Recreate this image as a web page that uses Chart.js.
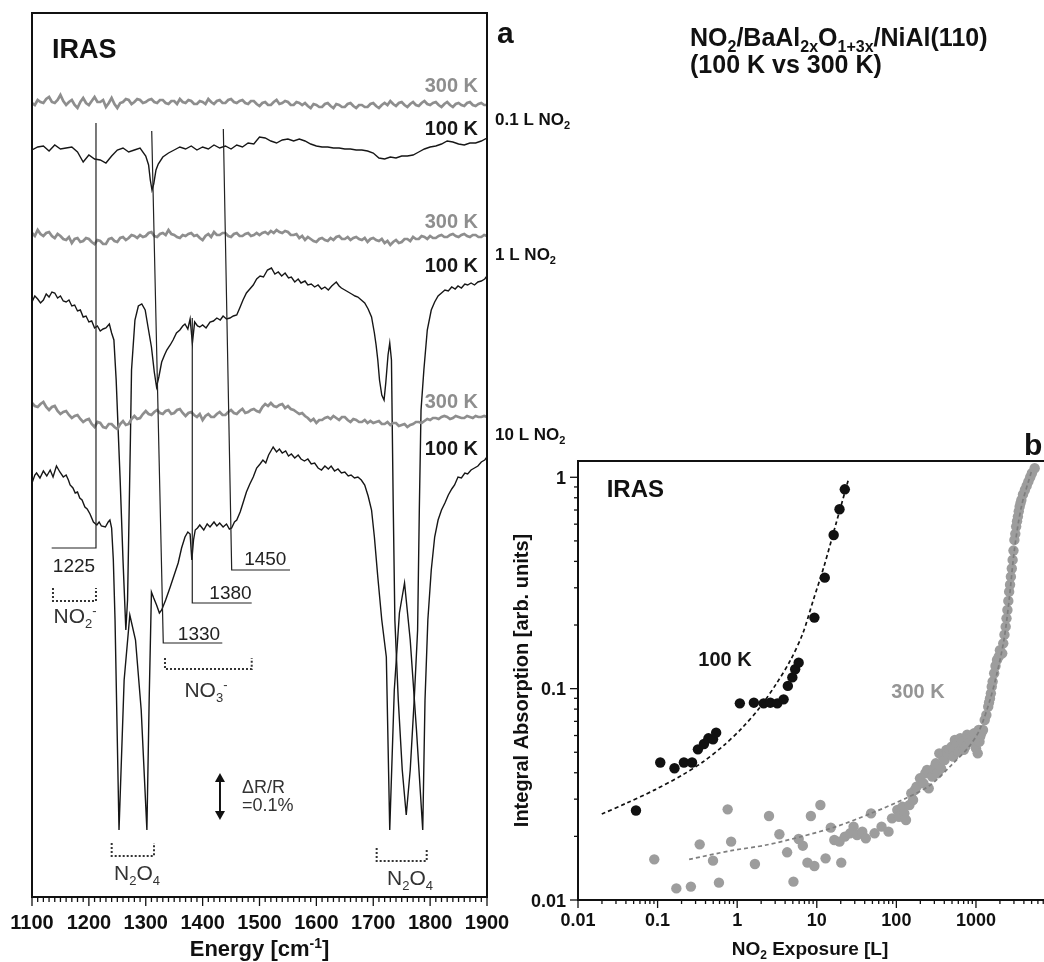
<!DOCTYPE html>
<html><head><meta charset="utf-8">
<script src="https://cdn.jsdelivr.net/npm/chart.js@4.4.1/dist/chart.umd.min.js"></script>
<style>
html,body{margin:0;padding:0;background:#fff;overflow:hidden;width:1044px;height:962px;}
#wrap{position:relative;width:1044px;height:962px;overflow:hidden;background:#fff;}
canvas{position:absolute;left:0;top:0;}
</style></head><body>
<div id="wrap">
<canvas id="ca" width="1044" height="962"></canvas>
<canvas id="cb" width="1110" height="962"></canvas>
</div>
<script>
// ---------------- Panel a: IRAS spectra (energy in cm-1, signal in arb. units) ----------------
const spectrumEnergy = [
1100,1105,1110,1115,1120,1125,1130,1135,1140,1145,1150,1155,1160,1165,1170,1175,1180,1185,1190,1195,
1200,1205,1210,1215,1220,1225,1230,1235,1240,1245,1250,1255,1260,1265,1270,1275,1280,1285,1290,1295,
1300,1305,1310,1315,1320,1325,1330,1335,1340,1345,1350,1355,1360,1365,1370,1375,1380,1385,1390,1395,
1400,1405,1410,1415,1420,1425,1430,1435,1440,1445,1450,1455,1460,1465,1470,1475,1480,1485,1490,1495,
1500,1505,1510,1515,1520,1525,1530,1535,1540,1545,1550,1555,1560,1565,1570,1575,1580,1585,1590,1595,
1600,1605,1610,1615,1620,1625,1630,1635,1640,1645,1650,1655,1660,1665,1670,1675,1680,1685,1690,1695,
1700,1705,1710,1715,1720,1725,1730,1735,1740,1745,1750,1755,1760,1765,1770,1775,1780,1785,1790,1795,
1800,1805,1810,1815,1820,1825,1830,1835,1840,1845,1850,1855,1860,1865,1870,1875,1880,1885,1890,1895,
1900];
const sig_01L_300K = [
1,-1,4,2,1,5,7,2,1,4,9,3,-1,2,4,-1,-4,2,6,1,
-1,3,7,2,2,4,-3,1,6,0,-4,1,2,5,4,0,2,5,4,1,
2,4,5,2,1,4,4,1,0,3,3,0,5,2,1,4,3,0,0,3,
2,0,5,2,0,3,4,1,1,4,5,2,1,3,4,1,0,3,3,0,
-2,1,2,-1,-1,2,4,0,1,3,2,-1,-1,2,1,-1,1,-2,-4,0,
-1,-3,-3,0,1,-2,-4,0,-1,-3,-3,0,1,-2,-4,-1,-1,-3,-3,0,
1,-2,-4,-1,1,-1,3,0,-2,1,2,-1,-3,0,2,-1,-2,1,3,0,
-1,1,2,-1,-3,0,2,-1,-3,0,1,-1,-2,1,2,-1,-2,0,1,-1,
-1];
const sig_1L_300K = [
3,0,6,2,0,3,4,0,-2,2,0,-3,-4,-1,-7,-3,-2,-6,-5,-2,
-3,-6,-8,-4,-5,-8,-8,-3,-2,-5,-6,-2,-1,-4,-2,1,0,-2,1,-1,
0,3,4,0,-1,2,3,1,6,2,1,-1,-2,1,0,2,3,0,1,-2,
-4,0,2,-1,4,1,1,3,3,0,-1,2,3,0,0,2,3,0,1,3,
1,3,4,2,5,3,6,4,3,5,4,1,1,2,-2,0,-4,-1,-3,-5,
-6,-3,-2,-4,-5,-2,-4,-1,0,-3,-3,-1,-4,-2,-1,-3,-4,-2,-6,-3,
-2,-4,-5,-3,-7,-5,-9,-6,-4,-7,-6,-3,-3,-5,-1,-3,-3,0,-1,-3,
0,-2,-2,0,1,-1,-1,1,2,0,-1,1,2,0,-1,1,1,-1,-1,1,
0];
const sig_10L_300K = [
12,9,8,11,13,8,5,8,9,4,1,3,4,0,-3,-1,0,-4,-7,-5,
-4,-9,-12,-7,-8,-12,-13,-9,-9,-12,-14,-9,-6,-10,-9,-4,-1,-4,-3,1,
4,1,0,3,5,2,1,4,5,1,2,5,6,2,-1,2,3,0,-2,1,
-5,-1,1,-2,-2,1,3,0,0,3,5,2,1,4,6,2,3,5,6,4,
3,8,11,9,12,9,8,10,11,7,9,6,5,3,1,2,-1,-3,-6,-4,
-8,-5,-5,-3,-2,-4,-1,-3,-5,-2,-2,-5,-7,-4,-5,-7,-7,-5,-8,-6,
-8,-7,-6,-9,-9,-7,-10,-8,-8,-11,-10,-9,-12,-10,-9,-7,-7,-8,-6,-4,
-5,-3,-3,-4,-2,-1,-2,-4,-3,-1,-2,-3,-3,-1,-2,-3,-1,-2,-2,-1,
-2];

const energy_01L_100K = [1100,1110,1120,1130,1140,1150,1160,1170,1180,1190,1200,1210,1220,1230,1240,1250,1260,1270,1280,1290,1300,1305,1308,1311,1314,1318,1322,1330,1340,1350,1360,1370,1380,1390,1400,1410,1420,1430,1440,1450,1460,1470,1480,1490,1500,1510,1520,1530,1540,1550,1560,1570,1580,1590,1600,1610,1620,1630,1640,1650,1660,1670,1680,1690,1700,1710,1720,1730,1740,1750,1760,1770,1780,1790,1800,1810,1820,1830,1840,1850,1860,1870,1880,1890,1900];
const sig_01L_100K = [0,3,4,-1,5,1,2,3,-2,-12,-5,-9,-10,-13,-6,0,2,-2,0,2,-6,-15,-30,-40,-34,-20,-14,-7,-3,0,3,1,4,0,3,1,5,2,4,1,5,3,7,6,13,12,9,7,10,11,9,11,9,6,4,3,3,2,2,1,1,0,0,-1,-3,-8,-9,-7,-8,-6,-6,-5,-2,1,3,4,6,9,8,6,5,7,7,9,12];

const energy_1L_100K = [1100,1105,1110,1115,1120,1125,1130,1135,1140,1145,1150,1155,1160,1165,1170,1175,1180,1185,1190,1195,1200,1205,1210,1215,1220,1225,1230,1236,1240,1244,1248,1255,1260,1265,1268,1273,1275,1281,1287,1293,1299,1304,1310,1315,1319,1323,1328,1333,1337,1343,1348,1354,1360,1365,1369,1374,1378,1382,1386,1391,1395,1400,1406,1413,1419,1425,1431,1436,1442,1448,1454,1460,1466,1471,1477,1483,1489,1495,1501,1507,1514,1521,1527,1533,1539,1545,1551,1556,1562,1568,1573,1580,1585,1591,1597,1603,1609,1615,1621,1627,1635,1640,1644,1650,1656,1662,1668,1673,1679,1685,1691,1697,1702,1705,1708,1711,1715,1719,1722,1726,1729,1732,1735,1738,1744,1751,1758,1765,1772,1778,1781,1784,1789,1795,1802,1808,1814,1820,1826,1832,1838,1844,1849,1855,1861,1866,1872,1878,1884,1890,1896,1900];
const sig_1L_100K = [-2,4,1,-3,0,6,3,8,7,2,4,-1,-2,0,-6,-5,-11,-10,-17,-16,-22,-21,-28,-26,-31,-29,-28,-24,-33,-40,-80,-180,-260,-330,-300,-140,-70,-20,-6,-4,-10,-27,-47,-72,-87,-77,-62,-55,-50,-45,-40,-33,-30,-26,-24,-29,-19,-43,-22,-26,-27,-25,-28,-22,-21,-18,-20,-16,-19,-18,-16,-15,-7,0,7,11,15,21,24,23,30,32,26,28,24,27,22,23,18,21,17,19,15,16,13,15,11,13,10,14,18,14,12,10,8,6,4,3,0,-3,-9,-17,-33,-45,-60,-80,-95,-100,-83,-55,-43,-60,-200,-320,-400,-470,-515,-470,-400,-330,-210,-110,-70,-30,-10,-2,4,7,10,9,13,11,14,12,16,15,17,15,18,19,21,24];

const energy_10L_100K = [1100,1105,1108,1114,1120,1126,1132,1137,1143,1149,1155,1160,1164,1167,1172,1176,1180,1184,1188,1193,1197,1202,1208,1214,1218,1222,1229,1234,1237,1240,1243,1246,1253,1262,1272,1282,1292,1302,1306,1310,1314,1319,1324,1328,1335,1343,1350,1357,1363,1369,1374,1378,1381,1384,1387,1391,1395,1402,1408,1413,1420,1425,1430,1436,1442,1447,1451,1456,1460,1466,1471,1477,1483,1489,1495,1501,1506,1511,1516,1521,1524,1530,1535,1540,1546,1551,1556,1562,1568,1573,1579,1585,1591,1597,1603,1609,1615,1621,1626,1632,1638,1644,1650,1656,1661,1667,1673,1679,1685,1691,1697,1702,1708,1715,1723,1729,1737,1746,1755,1765,1776,1787,1791,1796,1802,1808,1814,1820,1826,1832,1838,1843,1849,1855,1861,1866,1872,1878,1884,1890,1896,1900];
const sig_10L_100K = [-3,5,7,2,9,4,10,3,14,8,3,5,0,-5,-8,-13,-12,-18,-20,-27,-29,-34,-42,-45,-42,-46,-47,-42,-40,-48,-80,-140,-350,-200,-135,-160,-230,-350,-220,-112,-118,-125,-133,-130,-120,-107,-95,-83,-68,-57,-52,-54,-80,-60,-50,-48,-45,-50,-44,-47,-42,-46,-43,-47,-44,-49,-48,-42,-40,-32,-23,-12,-4,3,12,16,20,17,25,30,33,28,31,27,29,24,26,22,25,21,19,21,16,17,12,10,14,11,14,9,11,7,8,4,5,2,3,0,-5,-16,-30,-57,-97,-140,-177,-350,-210,-133,-103,-160,-250,-350,-220,-140,-90,-57,-40,-30,-23,-15,-9,-5,3,2,7,6,10,12,14,18,20,23];

// vertical stacking offsets of the six traces (arb. units)
const traceOffsets = [793, 747, 661, 597, 482, 417];
const energyTicks = [1100,1200,1300,1400,1500,1600,1700,1800,1900];

// ---------------- Panel b: integral absorption vs NO2 exposure ----------------
const exposure100K = [0.0535,0.108,0.163,0.214,0.271,0.321,0.382,0.435,0.497,0.544,1.08,1.62,2.15,2.61,3.19,3.83,4.33,4.93,5.35,5.92,9.33,12.6,16.3,19.3,22.5];
const absorption100K = [0.0265,0.0447,0.042,0.0447,0.0447,0.0516,0.0547,0.0582,0.0576,0.0619,0.0852,0.0858,0.0852,0.0858,0.0852,0.089,0.103,0.113,0.1235,0.1327,0.2168,0.335,0.533,0.706,0.877];
const fitExposure100K = [0.0199,0.0404,0.0907,0.204,0.374,0.687,1.14,1.89,3.13,4.69,6.68,9.06,12.3,17.5,24.9];
const fitAbsorption100K = [0.0255,0.0287,0.0331,0.039,0.0451,0.0541,0.0649,0.0807,0.106,0.1367,0.1827,0.263,0.378,0.606,0.971];

const exposure300K = [0.0908,0.172,0.262,0.338,0.497,0.590,0.759,0.839,1.67,2.51,3.39,4.24,5.09,5.92,6.68,7.63,8.43,9.33,11.1,12.9,15.0,16.6,19.3,20.3,22.5,26.2,29.0,32.1,37.3,41.3,48.1,53.2,65.1,79.7,88.2,102.7,108,119.5,126,132,146,154,162,170,179,198,219,231,243,255,282,297,313,329,346,364,384,403,424,437,468,494,518,543,573,603,635,667,704,738,776,817,861,904,950,1000,1052,1082,1107,1130,1165,1225,1288,1350,1425,1460,1500,1540,1578,1620,1694,1760,1837,1931,2000,2137,2203,2280,2362,2420,2483,2550,2612,2680,2747,2820,2890,2960,3040,3120,3197,3280,3363,3450,3537,3630,3721,3900,4117,4330,4555,4800,5040,5466];
const absorption300K = [0.01557,0.01135,0.01157,0.01834,0.01535,0.01208,0.02685,0.01888,0.0148,0.02497,0.02046,0.01681,0.01221,0.01944,0.01807,0.01502,0.02497,0.01448,0.02816,0.01574,0.022,0.01923,0.01888,0.01502,0.01994,0.02068,0.02223,0.0203,0.02106,0.01958,0.0257,0.02068,0.02223,0.02106,0.02434,0.02667,0.02477,0.02764,0.0257,0.0239,0.02816,0.032,0.02973,0.0331,0.03436,0.03765,0.03565,0.0398,0.0412,0.03376,0.03835,0.042,0.04433,0.03977,0.0494,0.04198,0.0477,0.04597,0.0513,0.04943,0.05126,0.0531,0.04766,0.0572,0.0551,0.05034,0.0583,0.05612,0.0513,0.05314,0.0605,0.05715,0.0561,0.0593,0.0615,0.0522,0.04943,0.0637,0.05612,0.0593,0.06146,0.06373,0.07107,0.075,0.0822,0.086,0.0899,0.095,0.1022,0.108,0.1182,0.128,0.1367,0.1417,0.152,0.1469,0.1638,0.18,0.1965,0.215,0.2355,0.26,0.2877,0.31,0.3388,0.37,0.4065,0.45,0.5053,0.54,0.5843,0.62,0.6516,0.69,0.7261,0.755,0.7816,0.83,0.871,0.91,0.954,1.0,1.045,1.103];
const fitExposure300K = [0.249,0.840,2.31,6.35,17.5,48.1,132,268,492,817,1107,1500,1837,2247,2612,3040,3721,5040];
const fitAbsorption300K = [0.01557,0.01712,0.0182,0.01994,0.02223,0.0257,0.0303,0.035,0.0435,0.0531,0.0637,0.0883,0.1182,0.17,0.263,0.453,0.726,1.083];
const exposureTicks = [0.01,0.1,1,10,100,1000];
const absorptionTicks = [0.01,0.1,1];

// ---------------- helpers ----------------
const FAM = "'Liberation Sans', Arial, Helvetica, sans-serif";
function parseRich(s){
  const out=[]; let i=0, buf='';
  while(i<s.length){
    if((s[i]==='_'||s[i]==='^') && s[i+1]==='{'){
      if(buf){out.push([buf,0]);buf='';}
      const j=s.indexOf('}',i); out.push([s.slice(i+2,j), s[i]==='_'?1:2]); i=j+1;
    } else {buf+=s[i]; i++;}
  }
  if(buf) out.push([buf,0]);
  return out;
}
function drawText(ctx, s, x, y, o){
  const parts=parseRich(s); const size=o.size, w8=o.weight||'normal';
  const f=m=>`${w8} ${m?Math.round(size*0.62):size}px ${FAM}`;
  let W=0; parts.forEach(([t,m])=>{ctx.font=f(m); W+=ctx.measureText(t).width;});
  ctx.save(); ctx.translate(x,y); if(o.rot) ctx.rotate(o.rot);
  let cx = o.align==='center'? -W/2 : o.align==='right'? -W : 0;
  ctx.fillStyle=o.color||'#111'; ctx.textAlign='left'; ctx.textBaseline='alphabetic';
  parts.forEach(([t,m])=>{ctx.font=f(m); const dy=m===1?size*0.22:m===2?-size*0.38:0; ctx.fillText(t,cx,dy); cx+=ctx.measureText(t).width;});
  ctx.restore();
}
function seg(ctx,x1,y1,x2,y2){ctx.beginPath();ctx.moveTo(x1,y1);ctx.lineTo(x2,y2);ctx.stroke();}
const toPts=(xs,ys,off)=>xs.map((x,i)=>({x, y:(off||0)+ys[i]}));

// annotations of panel a, in data units (energy, arb.)
const peakMarks = [
  {label:'1225', path:[[1212.5,774],[1212.5,349],[1134.6,349]], at:[1173.8,325]},
  {label:'1330', path:[[1310.5,766],[1330.8,254],[1434.6,254]], at:[1393.6,257]},
  {label:'1380', path:[[1381.8,579],[1381.8,294],[1486.3,294]], at:[1449,298]},
  {label:'1450', path:[[1436.4,768],[1451.1,327],[1553.6,327]], at:[1510.2,332]}
];
const brackets = [
  {x1:1136.9, x2:1212.5, top:309, bottom:296, label:'NO_{2}^{-}', at:[1175.6,274]},
  {x1:1333.8, x2:1486.3, top:239, bottom:228, label:'NO_{3}^{-}', at:[1405.9,200]},
  {x1:1240.1, x2:1314.5, top:54, bottom:41, label:'N_{2}O_{4}', at:[1284.6,17]},
  {x1:1706, x2:1794, top:49, bottom:36, label:'N_{2}O_{4}', at:[1764.6,12]}
];
const GRAY='#8e8e8e', BLACK='#161616';
const tempLabels = [['300 K',805,GRAY],['100 K',762,BLACK],['300 K',669,GRAY],['100 K',625,BLACK],['300 K',489,GRAY],['100 K',442,BLACK]];
const doseLabels = [['0.1 L NO_{2}',772],['1 L NO_{2}',637],['10 L NO_{2}',457]];

const panelA = {
  id:'panelA',
  afterDraw(chart){
    const {ctx, chartArea:a, scales:{x,y}} = chart;
    const X=v=>x.getPixelForValue(v), Y=v=>y.getPixelForValue(v);
    ctx.save();
    ctx.strokeStyle='#222'; ctx.lineWidth=1.2;
    peakMarks.forEach(m=>{
      ctx.beginPath(); m.path.forEach(([e,v],i)=>{ i?ctx.lineTo(X(e),Y(v)):ctx.moveTo(X(e),Y(v)); }); ctx.stroke();
      drawText(ctx,m.label,X(m.at[0]),Y(m.at[1]),{size:19,color:'#222',align:'center'});
    });
    ctx.setLineDash([2,2]); ctx.lineWidth=2; ctx.strokeStyle='#333';
    brackets.forEach(b=>{
      ctx.beginPath(); ctx.moveTo(X(b.x1),Y(b.top)); ctx.lineTo(X(b.x1),Y(b.bottom)); ctx.lineTo(X(b.x2),Y(b.bottom)); ctx.lineTo(X(b.x2),Y(b.top)); ctx.stroke();
    });
    ctx.setLineDash([]);
    brackets.forEach(b=>drawText(ctx,b.label,X(b.at[0]),Y(b.at[1]),{size:21,color:'#333',align:'center'}));
    const ax=X(1430.5), a1=Y(124), a2=Y(77);
    ctx.strokeStyle='#111'; ctx.fillStyle='#111'; ctx.lineWidth=2;
    seg(ctx,ax,a1+6,ax,a2-6);
    ctx.beginPath(); ctx.moveTo(ax,a1); ctx.lineTo(ax-5,a1+9); ctx.lineTo(ax+5,a1+9); ctx.closePath(); ctx.fill();
    ctx.beginPath(); ctx.moveTo(ax,a2); ctx.lineTo(ax-5,a2-9); ctx.lineTo(ax+5,a2-9); ctx.closePath(); ctx.fill();
    drawText(ctx,'\u0394R/R',X(1469.2),Y(104),{size:18,color:'#333'});
    drawText(ctx,'=0.1%',X(1469.2),Y(86),{size:18,color:'#333'});
    ctx.strokeStyle='#111'; ctx.lineWidth=2;
    ctx.strokeRect(a.left,a.top,a.right-a.left,a.bottom-a.top);
    ctx.lineWidth=1.3;
    for(let e=1100;e<=1900;e+=10){ const px=X(e); seg(ctx,px,a.bottom,px,a.bottom+(e%100===0?9:5)); }
    energyTicks.forEach(v=>drawText(ctx,String(v),X(v),a.bottom+32,{size:20,weight:'bold',align:'center'}));
    drawText(ctx,'Energy [cm^{-1}]',(a.left+a.right)/2,a.bottom+59,{size:22,weight:'bold',align:'center'});
    drawText(ctx,'IRAS',X(1135.2),Y(839),{size:27,weight:'bold'});
    tempLabels.forEach(([t,v,c])=>drawText(ctx,t,X(1884.2),Y(v),{size:20,weight:'bold',color:c,align:'right'}));
    doseLabels.forEach(([t,v])=>drawText(ctx,t,X(1914.2),Y(v),{size:17,weight:'bold'}));
    drawText(ctx,'a',a.right+10,43,{size:30,weight:'bold'});
    drawText(ctx,'NO_{2}/BaAl_{2x}O_{1+3x}/NiAl(110)',690,46,{size:25,weight:'bold'});
    drawText(ctx,'(100 K vs 300 K)',690,73,{size:25,weight:'bold'});
    ctx.restore();
  }
};

const lineDs=(pts,color,w)=>({data:pts,borderColor:color,borderWidth:w,pointRadius:0,fill:false,tension:0});
new Chart(document.getElementById('ca'),{
  type:'line',
  data:{datasets:[
    lineDs(toPts(energy_10L_100K,sig_10L_100K,traceOffsets[5]),BLACK,1.4),
    lineDs(toPts(spectrumEnergy,sig_10L_300K,traceOffsets[4]),GRAY,2.7),
    lineDs(toPts(energy_1L_100K,sig_1L_100K,traceOffsets[3]),BLACK,1.4),
    lineDs(toPts(spectrumEnergy,sig_1L_300K,traceOffsets[2]),GRAY,2.7),
    lineDs(toPts(energy_01L_100K,sig_01L_100K,traceOffsets[1]),BLACK,1.4),
    lineDs(toPts(spectrumEnergy,sig_01L_300K,traceOffsets[0]),GRAY,2.7)
  ]},
  options:{
    responsive:false, animation:false, events:[],
    layout:{padding:{left:32,top:13,right:557,bottom:65}},
    plugins:{legend:{display:false},tooltip:{enabled:false}},
    scales:{
      x:{type:'linear',min:1100,max:1900,display:false},
      y:{type:'linear',min:0,max:884,display:false}
    }
  },
  plugins:[panelA]
});

const panelB = {
  id:'panelB',
  afterDraw(chart){
    const {ctx, chartArea:a, scales:{x,y}} = chart;
    const X=v=>x.getPixelForValue(v), Y=v=>y.getPixelForValue(v);
    ctx.save();
    ctx.strokeStyle='#111'; ctx.lineWidth=2;
    ctx.strokeRect(a.left,a.top,a.right-a.left,a.bottom-a.top);
    ctx.lineWidth=1.3;
    for(let k=-2;k<=0;k++) for(let m=1;m<=9;m++){ const v=m*Math.pow(10,k); if(v>y.max) continue; const py=Y(v); seg(ctx,a.left-(m===1?8:4),py,a.left,py); }
    for(let k=-2;k<=4;k++) for(let m=1;m<=9;m++){ const v=m*Math.pow(10,k); if(v>x.max) continue; const px=X(v); seg(ctx,px,a.bottom,px,a.bottom+(m===1?8:4)); }
    absorptionTicks.forEach(v=>drawText(ctx,String(v),a.left-12,Y(v)+6.5,{size:18,weight:'bold',align:'right'}));
    exposureTicks.forEach(v=>drawText(ctx,String(v),X(v),a.bottom+26,{size:18,weight:'bold',align:'center'}));
    drawText(ctx,'NO_{2} Exposure [L]',a.left+232,a.bottom+55,{size:19,weight:'bold',align:'center'});
    drawText(ctx,'Integral Absorption [arb. units]',a.left-50,(a.top+a.bottom)/2,{size:20,weight:'bold',align:'center',rot:-Math.PI/2});
    drawText(ctx,'IRAS',X(0.0229),Y(0.807),{size:24,weight:'bold'});
    drawText(ctx,'100 K',X(0.703),Y(0.128),{size:20,weight:'bold',align:'center',color:BLACK});
    drawText(ctx,'300 K',X(186.7),Y(0.0903),{size:20,weight:'bold',align:'center',color:'#959595'});
    drawText(ctx,'b',1024,455,{size:30,weight:'bold'});
    ctx.restore();
  }
};
new Chart(document.getElementById('cb'),{
  type:'line',
  data:{datasets:[
    {data:toPts(fitExposure100K,fitAbsorption100K),borderColor:'#111',borderWidth:1.7,borderDash:[4,3],pointRadius:0,tension:0.3,fill:false},
    {data:toPts(fitExposure300K,fitAbsorption300K),borderColor:'#7e7e7e',borderWidth:1.7,borderDash:[4,3],pointRadius:0,tension:0.3,fill:false},
    {data:toPts(exposure100K,absorption100K),showLine:false,pointRadius:5.2,pointBackgroundColor:'#111',pointBorderWidth:0,borderColor:'#111'},
    {data:toPts(exposure300K,absorption300K),showLine:false,pointRadius:5.2,pointBackgroundColor:'#9d9d9d',pointBorderWidth:0,borderColor:'#9d9d9d'}
  ]},
  options:{
    responsive:false, animation:false, events:[],
    layout:{padding:{left:578,top:461,right:30,bottom:62}},
    plugins:{legend:{display:false},tooltip:{enabled:false}},
    scales:{
      x:{type:'logarithmic',min:0.01,max:20280,display:false},
      y:{type:'logarithmic',min:0.01,max:1.194,display:false}
    }
  },
  plugins:[panelB]
});
</script>
</body></html>
